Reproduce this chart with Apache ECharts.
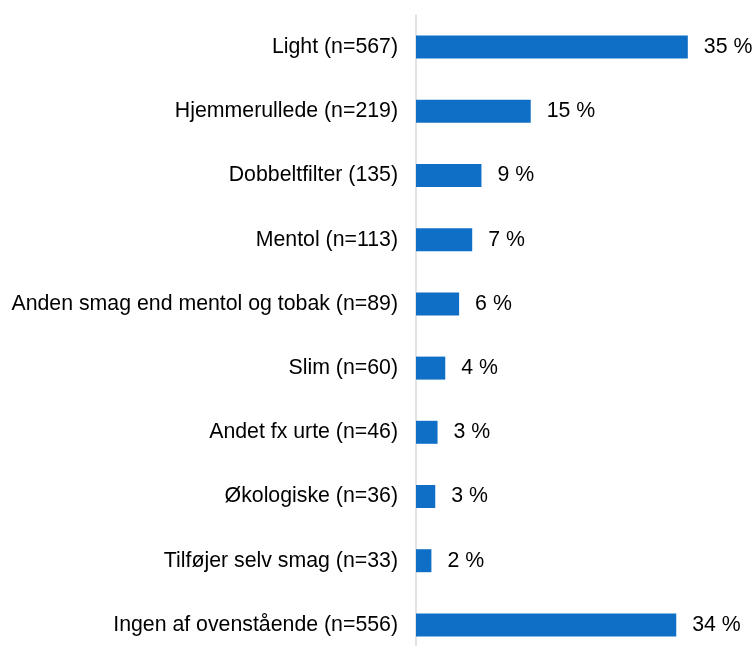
<!DOCTYPE html>
<html>
<head>
<meta charset="utf-8">
<script src="https://cdn.jsdelivr.net/npm/echarts@6/dist/echarts.min.js"></script>
<style>
  html, body { margin: 0; padding: 0; background: #fff; }
</style>
</head>
<body>
<div id="main" style="width: 754px; height: 646px"></div>
<script>
// kategorier (top til bund)
var categories = [
  "Light (n=567)",
  "Hjemmerullede (n=219)",
  "Dobbeltfilter (135)",
  "Mentol (n=113)",
  "Anden smag end mentol og tobak (n=89)",
  "Slim (n=60)",
  "Andet fx urte (n=46)",
  "Økologiske (n=36)",
  "Tilføjer selv smag (n=33)",
  "Ingen af ovenstående (n=556)"
];
// andel i procent, aflæst fra søjlerne
var values = [35.3, 14.9, 8.5, 7.3, 5.6, 3.8, 2.8, 2.5, 2.0, 33.8];

var myChart = echarts.init(document.getElementById("main"));

myChart.setOption({
  animation: false,
  textStyle: { fontFamily: "Liberation Sans, Arial, sans-serif" },
  grid: {
    left: 416,
    top: 15,
    width: 308,
    height: 642,
    containLabel: false,
    outerBoundsMode: "none"
  },
  xAxis: {
    type: "value",
    min: 0,
    max: 40,
    show: false
  },
  yAxis: {
    type: "category",
    inverse: true,
    data: categories,
    axisLine: { lineStyle: { color: "#d9d9d9", width: 1.5 } },
    axisTick: { show: false },
    axisLabel: {
      margin: 18,
      fontSize: 21.3,
      color: "#000"
    }
  },
  series: [
    {
      type: "bar",
      data: values,
      barWidth: 23,
      itemStyle: { color: "#0F6FC6" },
      label: {
        show: true,
        position: "right",
        distance: 16,
        fontSize: 21.3,
        color: "#000",
        formatter: function (p) {
          return Math.round(p.value) + " %";
        }
      }
    }
  ]
});
</script>
</body>
</html>
